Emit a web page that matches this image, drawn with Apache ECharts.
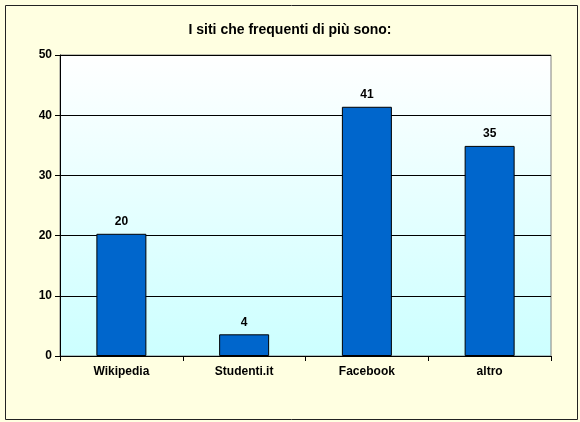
<!DOCTYPE html>
<html><head><meta charset="utf-8">
<script src="https://cdn.jsdelivr.net/npm/echarts@6/dist/echarts.min.js"></script>
<style>html,body{margin:0;padding:0;background:#fff}#c{width:580px;height:422px}</style>
</head><body><div id="c"></div>
<script>
const categories = ['Wikipedia', 'Studenti.it', 'Facebook', 'altro'];
const values = [20.3, 3.6, 41.4, 34.9];
const labels = ['20', '4', '41', '35'];

const chart = echarts.init(document.getElementById('c'));
chart.setOption({
    backgroundColor: '#FFFFE1',
    graphic: [{
        type: 'rect', left: 3, top: 3, shape: {width: 572, height: 414},
        style: {fill: 'none', stroke: '#222', lineWidth: 1}
    }],
    title: {
        text: 'I siti che frequenti di più sono:', left: 'center', top: 18,
        textStyle: {fontFamily: 'Liberation Sans', fontSize: 14, fontWeight: 'bold', color: '#000'}
    },
    grid: {
        left: 60, right: 29, top: 55, bottom: 66, show: true, borderColor: '#808080', borderWidth: 1,
        backgroundColor: new echarts.graphic.LinearGradient(0, 0, 0, 1, [
            {offset: 0, color: '#FFFFFF'}, {offset: 1, color: '#CCFFFF'}])
    },
    xAxis: {
        type: 'category', data: categories,
        axisLine: {lineStyle: {color: '#000'}},
        axisTick: {show: true, lineStyle: {color: '#000'}},
        axisLabel: {fontFamily: 'Liberation Sans', fontSize: 12, fontWeight: 'bold', color: '#000', margin: 10}
    },
    yAxis: {
        type: 'value', min: 0, max: 50, interval: 10,
        axisLine: {show: true, lineStyle: {color: '#000'}},
        axisTick: {show: true, lineStyle: {color: '#000'}},
        splitLine: {lineStyle: {color: '#000'}},
        axisLabel: {fontFamily: 'Liberation Sans', fontSize: 12, fontWeight: 'bold', color: '#000'}
    },
    series: [{
        type: 'bar', data: values, barWidth: 50,
        itemStyle: {color: '#0066CC', borderColor: '#000', borderWidth: 1},
        label: {
            show: true, position: 'top', distance: 6,
            fontFamily: 'Liberation Sans', fontSize: 12, fontWeight: 'bold', color: '#000',
            formatter: p => labels[p.dataIndex]
        }
    }]
});
</script></body></html>
